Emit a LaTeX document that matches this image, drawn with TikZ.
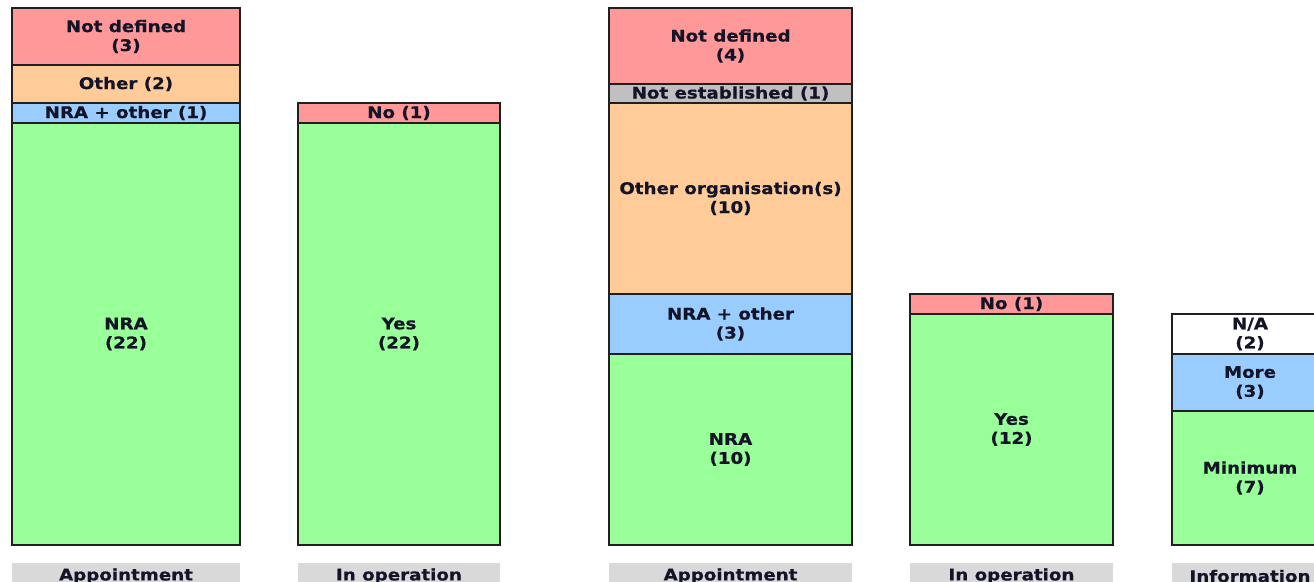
\documentclass[tikz,border=0pt]{standalone}
\usepackage{fontspec}
\setmainfont[FakeStretch=1.14,BoldFeatures={FakeBold=0.6}]{DejaVu Sans}
\definecolor{cred}{HTML}{FF9999}
\definecolor{corange}{HTML}{FFCC99}
\definecolor{cblue}{HTML}{99CCFF}
\definecolor{cgreen}{HTML}{99FF99}
\definecolor{cgray}{HTML}{C0C0C0}
\definecolor{labgray}{HTML}{D9D9D9}
\definecolor{edge}{HTML}{202020}
\definecolor{txt}{HTML}{141428}
\begin{document}
\begin{tikzpicture}[x=1pt,y=-1pt,
  seg/.style={draw=edge, line width=1.3pt, rectangle, inner sep=0pt, outer sep=0pt,
    align=center, font=\fontsize{16}{19}\selectfont\bfseries, text=txt},
  lab/.style={fill=labgray, draw=none, rectangle, inner sep=0pt, outer sep=0pt,
    align=center, font=\fontsize{16}{19}\selectfont\bfseries, text=txt}]
\useasboundingbox (0,0) rectangle (1314,581);
\clip (0,0) rectangle (1314,581);
% Bar 1
\node[seg, fill=cred, minimum width=228, minimum height=57] (a1) at (126,36.5) {Not defined\\(3)};
\node[seg, fill=corange, minimum width=228, minimum height=38] (a2) at (126,84) {Other (2)};
\node[seg, fill=cblue, minimum width=228, minimum height=20] (a3) at (126,113) {NRA + other (1)};
\node[seg, fill=cgreen, minimum width=228, minimum height=422] (a4) at (126,334) {NRA\\(22)};
% Bar 2
\node[seg, fill=cred, minimum width=202, minimum height=20] (b1) at (399,113) {No (1)};
\node[seg, fill=cgreen, minimum width=202, minimum height=422] (b2) at (399,334) {Yes\\(22)};
% Bar 3
\node[seg, fill=cred, minimum width=243, minimum height=76] (c1) at (730.5,46) {Not defined\\(4)};
\node[seg, fill=cgray, minimum width=243, minimum height=19] (c2) at (730.5,93.5) {Not established (1)};
\node[seg, fill=corange, minimum width=243, minimum height=191] (c3) at (730.5,198.5) {Other organisation(s)\\(10)};
\node[seg, fill=cblue, minimum width=243, minimum height=60] (c4) at (730.5,324) {NRA + other\\(3)};
\node[seg, fill=cgreen, minimum width=243, minimum height=191] (c5) at (730.5,449.5) {NRA\\(10)};
% Bar 4
\node[seg, fill=cred, minimum width=203, minimum height=20] (d1) at (1011.5,304) {No (1)};
\node[seg, fill=cgreen, minimum width=203, minimum height=231] (d2) at (1011.5,429.5) {Yes\\(12)};
% Bar 5
\node[seg, fill=white, minimum width=156, minimum height=40] (e1) at (1250,334) {N/A\\(2)};
\node[seg, fill=cblue, minimum width=156, minimum height=57] (e2) at (1250,382.5) {More\\(3)};
\node[seg, fill=cgreen, minimum width=156, minimum height=134] (e3) at (1250,478) {Minimum\\(7)};
% Labels
\node[lab, minimum width=228, minimum height=26] (la) at (126,576) {Appointment};
\node[lab, minimum width=202, minimum height=26] (lb) at (399,576) {In operation};
\node[lab, minimum width=243, minimum height=26] (lc) at (730.5,576) {Appointment};
\node[lab, minimum width=203, minimum height=26] (ld) at (1011.5,576) {In operation};
\node[lab, minimum width=156, minimum height=26] (le) at (1250,576) {Information};
\end{tikzpicture}
\end{document}
